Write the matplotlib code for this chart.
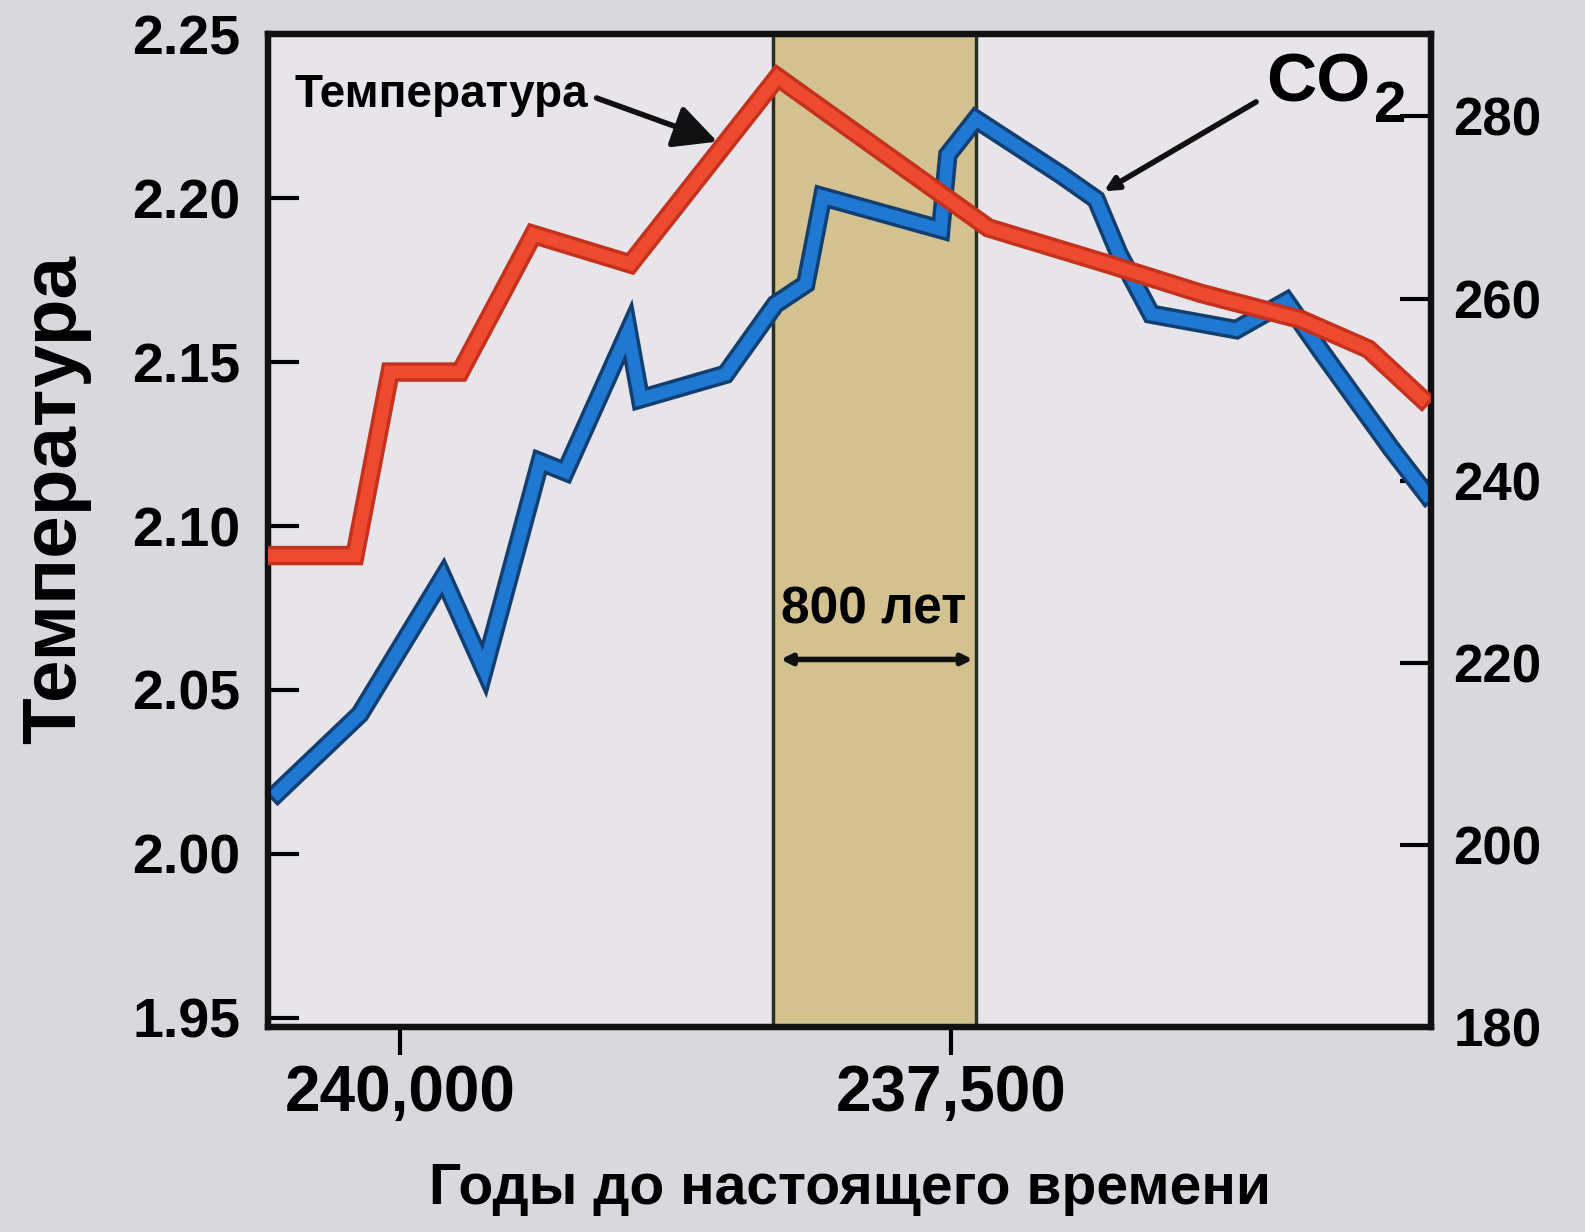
import matplotlib
matplotlib.use("Agg")
import matplotlib.pyplot as plt
import matplotlib.patheffects as pe

# data (years before present)
temp_years = [240580, 240205, 240045, 239727, 239395, 238955, 238287,
              237330, 236790, 236365, 235910, 235605, 235364]
temp_values = [2.091, 2.091, 2.147, 2.147, 2.189, 2.180, 2.237,
               2.191, 2.180, 2.171, 2.163, 2.154, 2.139]

co2_years = [240555, 240182, 239805, 239618, 239364, 239250, 238964, 238909,
             238523, 238296, 238159, 238082, 237546, 237514, 237387, 237000,
             236841, 236737, 236591, 236205, 235978, 235819, 235500, 235341]
co2_values = [205.8, 214.4, 229.4, 219.3, 242.1, 241.0, 256.4, 249.0,
              251.7, 259.4, 261.6, 271.2, 267.6, 275.8, 279.7, 273.6,
              270.9, 264.9, 258.3, 256.6, 259.7, 254.2, 243.5, 238.5]

lag_start = 238309
lag_end = 237387

x_ticks = [240000, 237500]
x_tick_labels = ["240,000", "237,500"]
temp_ticks = [1.95, 2.00, 2.05, 2.10, 2.15, 2.20, 2.25]
co2_ticks = [180, 200, 220, 240, 260, 280]

plt.rcParams["font.family"] = ["Liberation Sans", "DejaVu Sans"]
plt.rcParams["font.weight"] = "bold"
plt.rcParams["axes.labelweight"] = "bold"

fig = plt.figure(figsize=(15.85, 12.32), dpi=100)
fig.patch.set_facecolor("#d9d8dc")
ax1 = fig.add_axes([0.169, 0.166, 0.734, 0.806])
ax2 = ax1.twinx()

# put the temperature axes on top, background on the co2 axes
ax1.set_zorder(ax2.get_zorder() + 1)
ax1.patch.set_visible(False)
ax2.patch.set_visible(True)
ax2.set_facecolor("#e7e5ea")

# shaded lag band
ax2.axvspan(lag_start, lag_end, color="#d3c18f", zorder=0)
for xv in (lag_start, lag_end):
    ax2.axvline(xv, color="#2b3122", lw=2.5, zorder=1)

# co2 line
ax2.plot(co2_years, co2_values, color="#1f78d2", lw=9, solid_joinstyle="miter",
         path_effects=[pe.Stroke(linewidth=14, foreground="#123f70"), pe.Normal()], zorder=3)

# temperature line
ax1.plot(temp_years, temp_values, color="#ee4a30", lw=9, solid_joinstyle="miter",
         path_effects=[pe.Stroke(linewidth=14, foreground="#c4311d"), pe.Normal()], zorder=4)

ax1.set_xlim(240600, 235320)
ax1.set_ylim(1.947, 2.25)
ax2.set_ylim(180, 289)

ax1.set_xticks(x_ticks)
ax1.set_xticklabels(x_tick_labels)
ax1.set_yticks(temp_ticks)
ax1.set_yticklabels([f"{t:.2f}" for t in temp_ticks])
ax2.set_yticks(co2_ticks)

ax1.tick_params(axis="y", direction="in", length=22, width=3, pad=20, labelsize=40)
ax1.tick_params(axis="x", direction="out", length=20, width=3, pad=6, labelsize=46)
ax2.tick_params(axis="y", direction="in", length=22, width=3, pad=16, labelsize=38)

for ax in (ax1, ax2):
    for s in ax.spines.values():
        s.set_linewidth(4.5)
        s.set_color("#111111")

ax1.set_ylabel("Температура", fontsize=55)
ax1.yaxis.set_label_coords(-0.152, 0.532)
ax1.set_xlabel("Годы до настоящего времени", fontsize=41, labelpad=28)

# annotations
ax1.annotate("Температура", xy=(238560, 2.2173), xytext=(240477, 2.2315),
             fontsize=33, va="center", ha="left",
             arrowprops=dict(arrowstyle="-|>,head_length=0.8,head_width=0.4",
                             color="#111111", lw=4, shrinkA=4, shrinkB=0,
                             relpos=(1.0, 0.5)), zorder=6)
ax2.annotate("", xy=(236805, 271.8), xytext=(236115, 281.6),
             arrowprops=dict(arrowstyle="-|>,head_length=0.8,head_width=0.4",
                             color="#111111", lw=4, shrinkA=0, shrinkB=0), zorder=6)
ax2.text(236068, 283.6, "CO", fontsize=50, va="center", ha="left", zorder=6)
ax2.text(235580, 281.0, "2", fontsize=42, va="center", ha="left", zorder=6)

ax1.annotate("", xy=(237400, 2.0593), xytext=(238273, 2.0593),
             arrowprops=dict(arrowstyle="<|-|>,head_length=0.6,head_width=0.3",
                             color="#111111", lw=4, shrinkA=0, shrinkB=0), zorder=6)
ax1.text(237850, 2.0745, "800 лет", fontsize=37, ha="center", va="center", zorder=6)

plt.savefig("out.png", dpi=100, facecolor=fig.get_facecolor())
